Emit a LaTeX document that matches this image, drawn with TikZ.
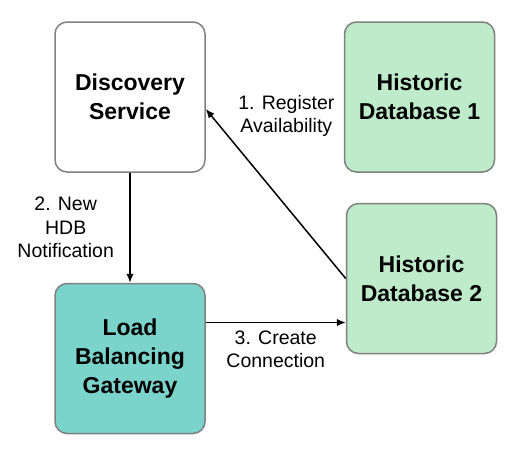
\documentclass[tikz,border=0pt]{standalone}
\usepackage{fontspec}
\setmainfont{Liberation Sans}
\usetikzlibrary{shapes,arrows,arrows.meta,positioning,calc}

\definecolor{hdbgreen}{HTML}{BEEBC9}
\definecolor{lbgteal}{HTML}{7AD4CB}
\definecolor{boxgray}{HTML}{808080}

\begin{document}
\begin{tikzpicture}[x=1pt, y=-1pt, auto]
\useasboundingbox (0,0) rectangle (516,448);

% Define styles
\tikzstyle{service} = [rectangle, rounded corners=12pt, minimum width=150pt, minimum height=150pt, align=center, draw=boxgray, fill=white, line width=1.5pt, font=\bfseries\fontsize{23}{29}\selectfont]
\tikzstyle{database} = [service, fill=hdbgreen]
\tikzstyle{gateway} = [service, fill=lbgteal]
\tikzstyle{note} = [align=center, font=\fontsize{19.5}{23.5}\selectfont]
\tikzstyle{arrow} = [line width=1.5pt, -{Latex[length=9pt, width=7.5pt]}]

% SERVICES
\node (discovery) [service] at (130,97) {Discovery\\Service};
\node (hdb1) [database, right=138pt of discovery] {Historic\\Database 1};
\node (hdb2) [database, below=30pt of hdb1, xshift=2pt] {Historic\\Database 2};
\node (lbg) [gateway, below=110pt of discovery] {Load\\Balancing\\Gateway};

% 1. Register
\draw [arrow] (hdb2.west) -- ([yshift=-12pt]discovery.east);
\node (reglabel) [note, right=29pt of discovery.east, yshift=-19pt, anchor=west] {1. Register\\Availability};

% 2. Notification
\draw [arrow] (discovery.south) -- node[note, midway, left=12pt] {2. New\\HDB\\Notification} (lbg.north);

% 3. Connection
\coordinate (lbg_out) at ([yshift=36pt]lbg.east);
\draw [arrow] (lbg_out) -- node[note, midway, below=4pt] {3. Create\\Connection} (lbg_out -| hdb2.west);

\end{tikzpicture}
\end{document}
